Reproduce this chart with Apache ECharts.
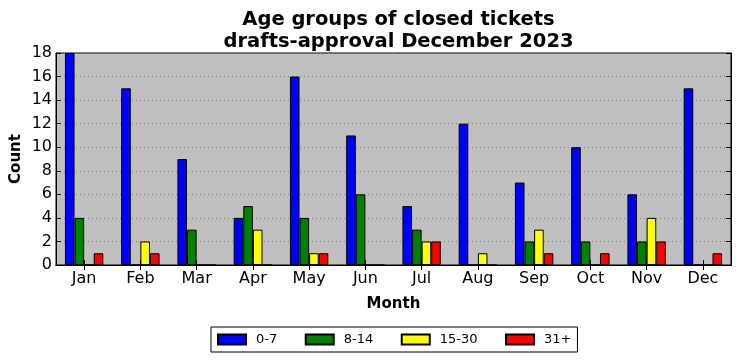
<!DOCTYPE html>
<html><head><meta charset="utf-8">
<script src="https://cdn.jsdelivr.net/npm/echarts@6/dist/echarts.min.js"></script>
<style>html,body{margin:0;padding:0;background:#fff}#c{width:741px;height:361px}</style>
</head><body><div id="c"></div>
<script>
const months = ['Jan','Feb','Mar','Apr','May','Jun','Jul','Aug','Sep','Oct','Nov','Dec'];
const yTicks = [0,2,4,6,8,10,12,14,16,18];
const seriesNames = ['0-7','8-14','15-30','31+'];
const age0_7   = [18,15,9,4,16,11,5,12,7,10,6,15];
const age8_14  = [4,0,3,5,4,6,3,0,2,2,2,0];
const age15_30 = [0,2,0,3,1,0,2,1,3,0,4,0];
const age31p   = [1,1,0,0,1,0,2,0,1,1,2,1];
const colors = ['#0000ff','#008000','#ffff00','#ff0000'];
const values = [age0_7, age8_14, age15_30, age31p];

const font = 'DejaVu Sans';
const chart = echarts.init(document.getElementById('c'), null, {renderer:'canvas'});
const grid = {left:56, top:53, width:675, height:212, backgroundColor:'#c0c0c0', show:true,
  borderColor:'#000', borderWidth:1, containLabel:false, outerBoundsMode:'none'};
chart.setOption({
  animation:false,
  title:{text:'Age groups of closed tickets\ndrafts-approval December 2023', left:393.5, top:4, textAlign:'center',
    textStyle:{fontFamily:font, fontWeight:'bold', fontSize:19.5, lineHeight:22, color:'#000'}},
  legend:{left:211, top:327, padding:[6,6,6,6], itemWidth:28, itemHeight:10, itemGap:27.5,
    borderColor:'#000', borderWidth:1, borderRadius:0, icon:'rect',
    textStyle:{fontFamily:font, fontSize:13, color:'#000', padding:[0,0,0,5], lineHeight:13},
    data:seriesNames},
  grid: grid,
  xAxis:[{type:'category', data:months, position:'bottom',
      name:'Month', nameLocation:'middle', nameGap:32, nameMoveOverlap:false,
      nameTextStyle:{fontFamily:font, fontWeight:'bold', fontSize:15, color:'#000'},
      axisLine:{show:true, lineStyle:{color:'#000'}},
      axisTick:{show:true, inside:true, alignWithLabel:true, length:5, lineStyle:{color:'#000'}},
      axisLabel:{fontFamily:font, fontSize:16, color:'#000', margin:6},
      splitLine:{show:false}},
    {type:'category', data:months, position:'top',
      axisLine:{show:true, lineStyle:{color:'#000'}},
      axisTick:{show:true, inside:true, alignWithLabel:true, length:5, lineStyle:{color:'#000'}},
      axisLabel:{show:false}, splitLine:{show:false}}],
  yAxis:[{type:'value', min:0, max:18, interval:2, position:'left',
      name:'Count', nameLocation:'middle', nameGap:32, nameMoveOverlap:false,
      nameTextStyle:{fontFamily:font, fontWeight:'bold', fontSize:15, color:'#000'},
      axisLine:{show:true, lineStyle:{color:'#000'}},
      axisTick:{show:true, inside:true, length:5, lineStyle:{color:'#000'}},
      axisLabel:{fontFamily:font, fontSize:16, color:'#000', margin:4,
        formatter:v=>yTicks.includes(v)?String(v):''},
      splitLine:{show:true, lineStyle:{color:'#808080', type:[1,3], width:1}}},
    {type:'value', min:0, max:18, interval:2, position:'right',
      axisLine:{show:true, lineStyle:{color:'#000'}},
      axisTick:{show:true, inside:true, length:5, lineStyle:{color:'#000'}},
      axisLabel:{show:false}, splitLine:{show:false}}],
  series: seriesNames.map((n,i)=>({
    name:n, type:'bar', xAxisIndex:0, yAxisIndex:0, data:values[i],
    barWidth:9.6, barGap:'0%',
    itemStyle:{color:colors[i], borderColor:'#000', borderWidth:1}
  }))
});
</script></body></html>
